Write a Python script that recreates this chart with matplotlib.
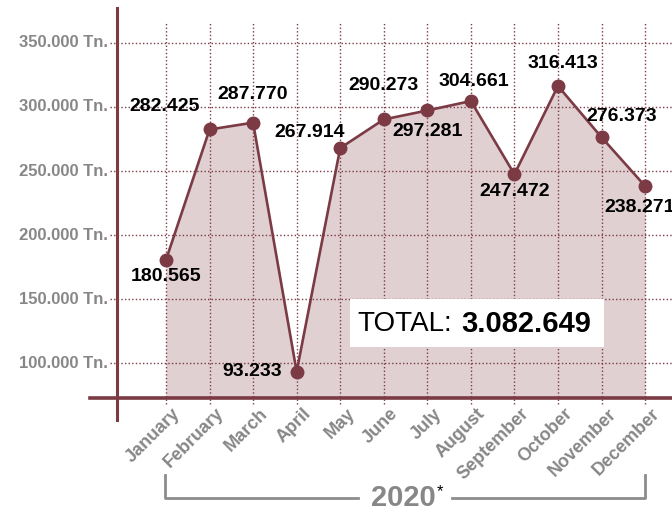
import matplotlib
matplotlib.use("Agg")
import matplotlib.pyplot as plt
from matplotlib.patches import Rectangle

months = ["January", "February", "March", "April", "May", "June", "July",
          "August", "September", "October", "November", "December"]
values = [180565, 282425, 287770, 93233, 267914, 290273, 297281,
          304661, 247472, 316413, 276373, 238271]
value_labels = ["180.565", "282.425", "287.770", "93.233", "267.914", "290.273",
                "297.281", "304.661", "247.472", "316.413", "276.373", "238.271"]
y_ticks = [100000, 150000, 200000, 250000, 300000, 350000]
y_tick_labels = ["100.000 Tn.", "150.000 Tn.", "200.000 Tn.", "250.000 Tn.",
                 "300.000 Tn.", "350.000 Tn."]
total_label = "3.082.649"
year_label = "2020"

# label offsets in pixels (dx, dy up)
offsets = [(0, -17), (-45, 23), (0, 28), (-44, 0), (-31, 16), (0, 34),
           (0, -21), (3, 20), (0, -17), (5, 22), (20, 21), (-5, -21)]

W, H = 672, 512
fig = plt.figure(figsize=(W / 100, H / 100), dpi=100)
ax = fig.add_axes([0, 0, 1, 1])
ax.axis("off")

# pixel <-> data mapping
X0, DX = 166.0, 43.55
Y100, DY = 363.0, 64.0
def px_x(p):
    return (p - X0) / DX
def px_y(p):
    return 100000 + (Y100 - p) / DY * 50000

ax.set_xlim(px_x(0), px_x(W))
ax.set_ylim(px_y(H), px_y(0))

maroon = "#7b3a44"
fillc = "#e0d0d2"
grey = "#878787"
base = px_y(398)
xs = list(range(len(months)))

# fill
ax.fill_between(xs, values, base, color=fillc, zorder=1, lw=0)

# grid
for t in y_ticks:
    ax.plot([px_x(110), px_x(W)], [t, t], color=maroon, lw=1,
            ls=(0, (1, 1.6)), zorder=2)
for x in xs:
    ax.plot([x, x], [px_y(404), px_y(22)], color=maroon, lw=1,
            ls=(0, (1, 1.6)), zorder=2)

# axes lines
ax.plot([px_x(117), px_x(117)], [px_y(420), px_y(8)], color=maroon, lw=2.2, zorder=3)
ax.plot([px_x(90), px_x(W)], [base, base], color=maroon, lw=2.6, zorder=3)

# line + markers
ax.plot(xs, values, color=maroon, lw=1.9, marker="o", ms=9, zorder=4)

# value labels
for x, v, lab, (dx, dy) in zip(xs, values, value_labels, offsets):
    ax.annotate(lab, (x, v), xytext=(dx, dy), textcoords="offset pixels",
                ha="center", va="center", fontsize=14, fontweight="bold",
                family="Liberation Sans", color="black", zorder=6)

# y tick labels
for t, lab in zip(y_ticks, y_tick_labels):
    ax.text(px_x(108), t, lab, ha="right", va="center", fontsize=12,
            fontweight="bold", family="Liberation Sans", color=grey)

# month labels
for x, m in zip(xs, months):
    ax.text(x + 6 / DX, px_y(405), m, rotation=45, rotation_mode="anchor",
            ha="right", va="top", fontsize=13, fontweight="bold",
            family="Liberation Sans", color=grey)

# total box
ax.add_patch(Rectangle((px_x(350), px_y(347)), px_x(604) - px_x(350),
                       px_y(299) - px_y(347), facecolor="white",
                       edgecolor="none", zorder=5))
ax.text(px_x(452), px_y(324), "TOTAL:", ha="right", va="center", fontsize=20,
        family="Liberation Sans", color="black", zorder=6)
ax.text(px_x(461), px_y(324), total_label, ha="left", va="center", fontsize=21,
        fontweight="bold", family="Liberation Sans", color="black", zorder=6)

# year bracket
bc = "#8c8c8c"
ax.plot([px_x(165), px_x(165), px_x(358)], [px_y(475), px_y(498), px_y(498)],
        color=bc, lw=2, clip_on=False)
ax.plot([px_x(452), px_x(645), px_x(645)], [px_y(498), px_y(498), px_y(475)],
        color=bc, lw=2, clip_on=False)
ax.text(px_x(403), px_y(498), year_label, ha="center", va="center", fontsize=21,
        fontweight="bold", family="Liberation Sans", color=grey)
ax.text(px_x(440), px_y(492), "*", ha="center", va="center", fontsize=12,
        family="Liberation Sans", color="black")

fig.savefig("out.png", dpi=100)
